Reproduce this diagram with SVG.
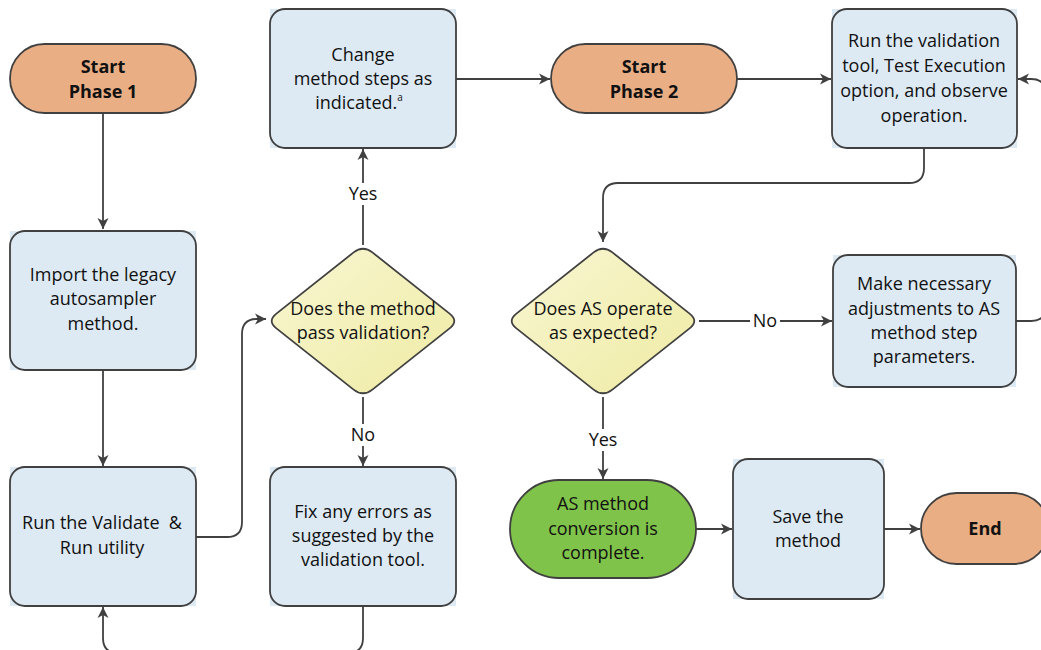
<svg xmlns="http://www.w3.org/2000/svg" width="1041" height="650" viewBox="0 0 1041 650">
  <defs>
    <marker id="arrow" markerUnits="userSpaceOnUse" viewBox="-12 -6 13 12" refX="0" refY="0" markerWidth="13" markerHeight="12" orient="auto">
      <path d="M0,0 L-11,-5.5 L-8,0 L-11,5.5 Z" fill="#404040"/>
    </marker>
    <linearGradient id="diamondFill" x1="0" y1="0" x2="1" y2="1">
      <stop offset="0" stop-color="#f8f6d2"/>
      <stop offset="1" stop-color="#efeba4"/>
    </linearGradient>
    <path id="diamond" d="M372.4,252.4 L449.6,313.6 Q459,321 449.6,328.4 L372.4,389.6 Q363,397 353.6,389.6 L276.4,328.4 Q267,321 276.4,313.6 L353.6,252.4 Q363,245 372.4,252.4 Z"/>
  </defs>
  <style>
    .bg { fill: #ddeaf4; }
    .box { fill: #ddeaf4; stroke: #404040; stroke-width: 1.8; }
    .pill { fill: #e9ae84; stroke: #404040; stroke-width: 1.8; }
    .done { fill: #80c34a; stroke: #404040; stroke-width: 1.8; }
    .dec { fill: url(#diamondFill); stroke: #404040; stroke-width: 1.8; }
    .edge { fill: none; stroke: #404040; stroke-width: 1.8; marker-end: url(#arrow); }
    text { font-family: "Open Sans", "Noto Sans", sans-serif; font-size: 18px; fill: #111; text-anchor: middle; }
    .b { font-weight: bold; }
    .sup { font-size: 10px; text-anchor: start; }
    .lbl-bg { fill: #ffffff; }
  </style>

  <!-- connectors -->
  <g id="connectors">
    <path class="edge" d="M103,113 V229"/>
    <path class="edge" d="M103,370 V466"/>
    <path class="edge" d="M195,537 H227 Q242,537 242,522 V334 Q242,319 257,319 H266"/>
    <path class="edge" d="M363,245 V149"/>
    <path class="edge" d="M363,397 V466"/>
    <path class="edge" d="M363,606 V638 Q363,653 348,653 H118 Q103,653 103,638 V607"/>
    <path class="edge" d="M456,79 H550"/>
    <path class="edge" d="M737,79 H831"/>
    <path class="edge" d="M924,148 V168 Q924,183 909,183 H618 Q603,183 603,198 V242"/>
    <path class="edge" d="M699,321 H832"/>
    <path class="edge" d="M1016,321 H1031 Q1046,321 1046,306 V94 Q1046,79 1031,79 H1018"/>
    <path class="edge" d="M603,397 V479"/>
    <path class="edge" d="M696,529 H732"/>
    <path class="edge" d="M884,529 H920"/>
    <!-- branch labels -->
    <rect class="lbl-bg" x="345" y="183" width="36" height="22"/>
    <text x="363" y="200">Yes</text>
    <rect class="lbl-bg" x="348" y="424" width="30" height="22"/>
    <text x="363" y="441">No</text>
    <rect class="lbl-bg" x="750" y="310" width="30" height="22"/>
    <text x="765" y="327">No</text>
    <rect class="lbl-bg" x="585" y="429" width="36" height="22"/>
    <text x="603" y="446">Yes</text>
  </g>

  <g id="start1">
    <rect class="pill" x="10" y="44" width="186" height="69" rx="34.5"/>
    <text class="b" x="103" y="73">Start</text>
    <text class="b" x="103" y="98">Phase 1</text>
  </g>

  <g id="import">
    <rect class="bg" x="10" y="231" width="186" height="139"/>
    <rect class="box" x="10" y="231" width="186" height="139" rx="15"/>
    <text x="103" y="281">Import the legacy</text>
    <text x="103" y="305">autosampler</text>
    <text x="103" y="330">method.</text>
  </g>

  <g id="validate-run">
    <rect class="bg" x="10" y="467" width="186" height="139"/>
    <rect class="box" x="10" y="467" width="186" height="139" rx="15"/>
    <text x="102" y="529" xml:space="preserve">Run the Validate  &amp;</text>
    <text x="102" y="554">Run utility</text>
  </g>

  <g id="change-steps">
    <rect class="bg" x="270" y="9" width="186" height="139"/>
    <rect class="box" x="270" y="9" width="186" height="139" rx="15"/>
    <text x="363" y="61">Change</text>
    <text x="363" y="85">method steps as</text>
    <text x="359" y="109">indicated.<tspan class="sup" dy="-8">a</tspan></text>
  </g>

  <g id="pass-validation">
    <use href="#diamond" class="dec"/>
    <text x="363" y="315">Does the method</text>
    <text x="363" y="339">pass validation?</text>
  </g>

  <g id="fix-errors">
    <rect class="bg" x="270" y="467" width="186" height="139"/>
    <rect class="box" x="270" y="467" width="186" height="139" rx="15"/>
    <text x="363" y="518">Fix any errors as</text>
    <text x="363" y="542">suggested by the</text>
    <text x="363" y="566">validation tool.</text>
  </g>

  <g id="start2">
    <rect class="pill" x="551" y="44" width="186" height="69" rx="34.5"/>
    <text class="b" x="644" y="73">Start</text>
    <text class="b" x="644" y="98">Phase 2</text>
  </g>

  <g id="run-validation-tool">
    <rect class="bg" x="832" y="9" width="185" height="139"/>
    <rect class="box" x="832" y="9" width="185" height="139" rx="15"/>
    <text x="924" y="47">Run the validation</text>
    <text x="924" y="72">tool, Test Execution</text>
    <text x="924" y="97">option, and observe</text>
    <text x="924" y="122">operation.</text>
  </g>

  <g id="as-operate">
    <use href="#diamond" class="dec" transform="translate(240,0)"/>
    <text x="603" y="315">Does AS operate</text>
    <text x="603" y="339">as expected?</text>
  </g>

  <g id="adjust-params">
    <rect class="bg" x="833" y="255" width="183" height="132"/>
    <rect class="box" x="833" y="255" width="183" height="132" rx="15"/>
    <text x="924" y="290">Make necessary</text>
    <text x="924" y="315">adjustments to AS</text>
    <text x="924" y="339">method step</text>
    <text x="924" y="363">parameters.</text>
  </g>

  <g id="conversion-complete">
    <rect class="done" x="510" y="480" width="186" height="98" rx="49"/>
    <text x="603" y="510">AS method</text>
    <text x="603" y="535">conversion is</text>
    <text x="603" y="559">complete.</text>
  </g>

  <g id="save-method">
    <rect class="bg" x="733" y="459" width="151" height="140"/>
    <rect class="box" x="733" y="459" width="151" height="140" rx="15"/>
    <text x="808" y="523">Save the</text>
    <text x="808" y="547">method</text>
  </g>

  <g id="end">
    <rect class="pill" x="921" y="493" width="128" height="71" rx="35.5"/>
    <text class="b" x="985" y="535">End</text>
  </g>
</svg>
